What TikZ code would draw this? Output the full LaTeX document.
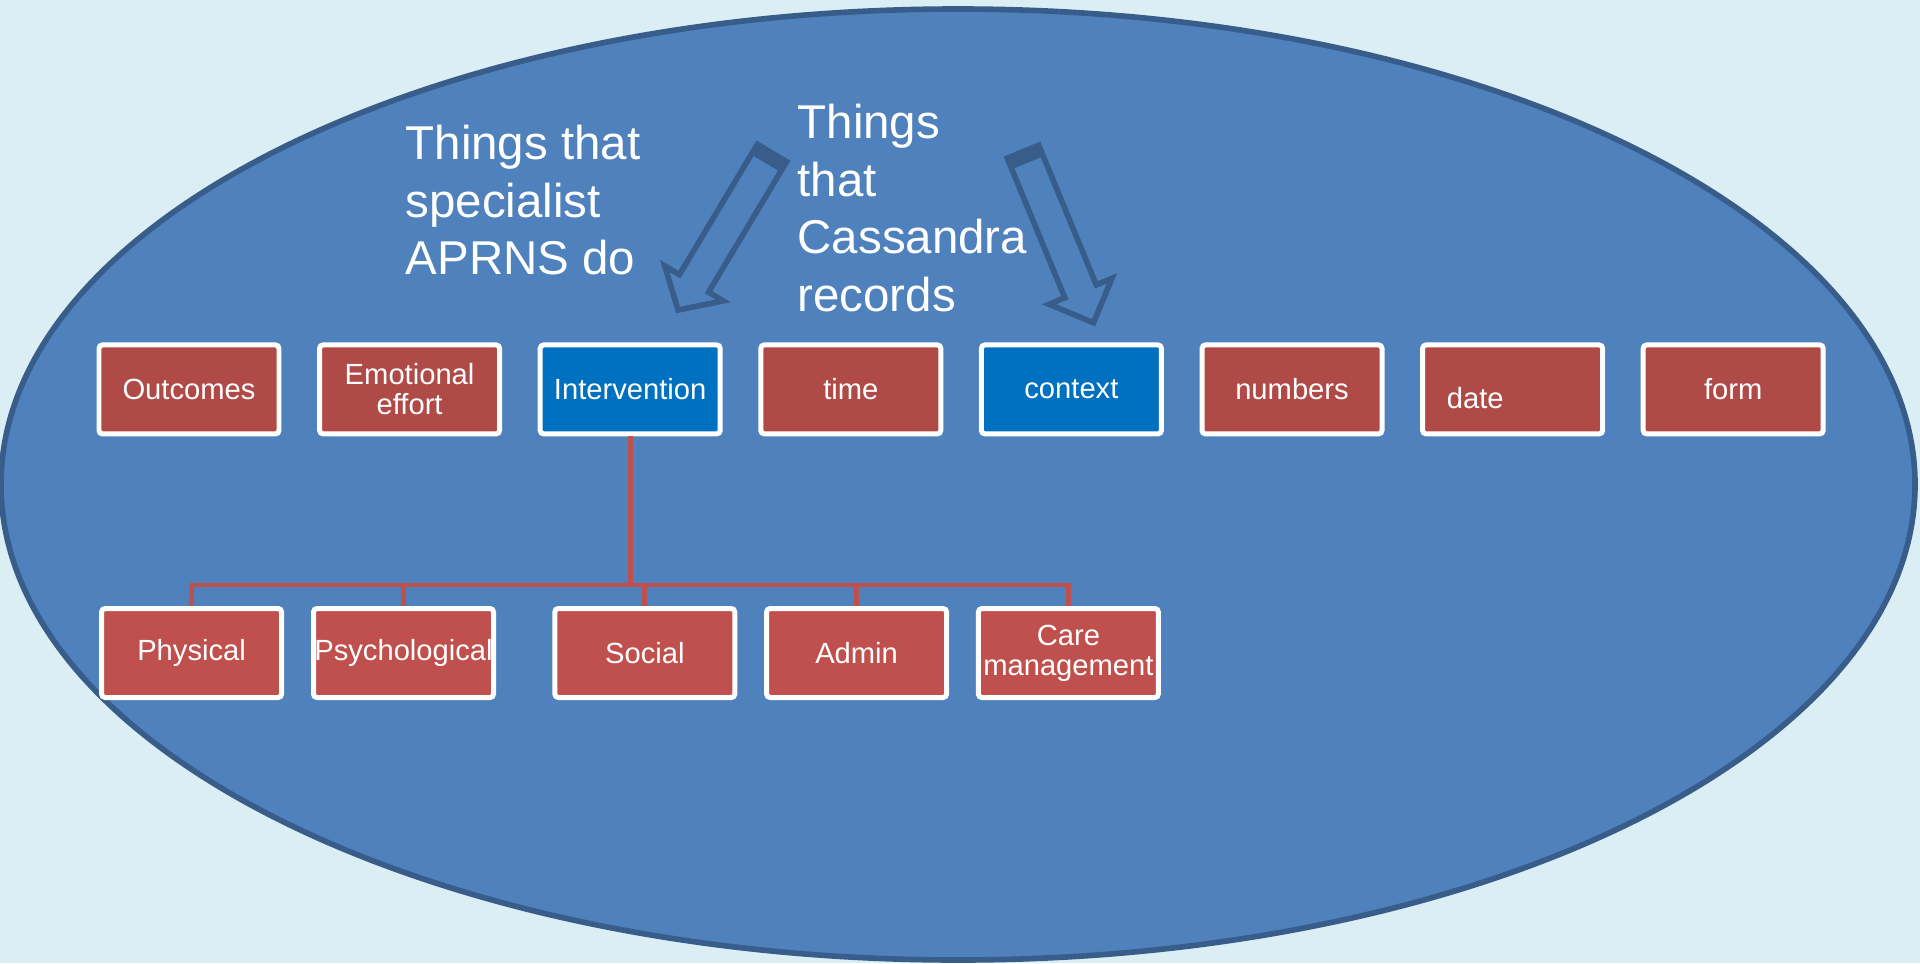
\documentclass[tikz,border=0pt]{standalone}
\usepackage{fontspec}
\setmainfont{Liberation Sans}
\usetikzlibrary{arrows}
\definecolor{pagebg}{HTML}{DAEEF3}
\definecolor{ringfill}{HTML}{4F81BD}
\definecolor{ringedge}{HTML}{385D8A}
\definecolor{topred}{HTML}{B04A47}
\definecolor{lowred}{HTML}{C0504D}
\definecolor{keyblue}{HTML}{0070C0}

\begin{document}
\begin{tikzpicture}[
  boxtext/.style={text=white, inner sep=0pt, font=\fontsize{8.3}{8.6}\selectfont, align=center},
  topbox/.style={boxtext, draw=white, line width=1.42pt, rounded corners=1pt, fill=topred,
    minimum width=1.80cm, minimum height=0.89cm},
  keybox/.style={topbox, fill=keyblue},
  lowbox/.style={topbox, fill=lowred},
  bigtext/.style={text=white, inner sep=0pt, align=left, font=\fontsize{13.5}{16.4}\selectfont},
  link/.style={draw=lowred, line width=1.4pt},
  hollow/.style={draw=ringedge, line width=1.6pt, line join=miter}
]
  \useasboundingbox (0,0) rectangle (19.2,9.63);
  % Background and ellipse
  \fill[pagebg] (0,0) rectangle (19.2,9.63);
  \draw[draw=ringedge, line width=1.6pt, fill=ringfill] (9.58,4.785) ellipse (9.57 and 4.755);
  % Headings
  \node[bigtext, anchor=north west] (aprns) at (4.05,8.387) {Things that\\specialist\\APRNS do};
  \node[bigtext, anchor=north west] (cass) at (7.97,8.597) {Things\\that\\Cassandra\\records};
  % Hollow arrows
  \begin{scope}[shift={(7.72,8.10)}, rotate=239.1]
    \fill[ringedge] (0,-0.17) rectangle (0.12,0.17);
    \draw[hollow] (0,-0.17) -- (1.52,-0.17) -- (1.52,-0.34) -- (1.83,0) -- (1.52,0.34) -- (1.52,0.17) -- (0,0.17) -- cycle;
  \end{scope}
  \begin{scope}[shift={(10.23,8.113)}, rotate=-67.6]
    \fill[ringedge] (0,-0.17) rectangle (0.12,0.17);
    \draw[hollow] (0,-0.17) -- (1.51,-0.17) -- (1.51,-0.34) -- (1.85,0) -- (1.51,0.34) -- (1.51,0.17) -- (0,0.17) -- cycle;
  \end{scope}
  % Top row of boxes
  \node[topbox] (outc) at (1.89,5.736) {Outcomes};
  \node[topbox] (emot) at (4.096,5.736) {Emotional\\effort};
  \node[keybox] (interv) at (6.302,5.736) {Intervention};
  \node[topbox] (time) at (8.508,5.736) {time};
  \node[keybox] (context) at (10.714,5.736) {context};
  \node[topbox] (numbers) at (12.92,5.736) {numbers};
  \node[topbox] (date) at (15.126,5.736) {};
  \node[boxtext, anchor=west] (datetext) at ([xshift=0.26cm, yshift=-0.09cm]date.west) {date};
  \node[topbox] (form) at (17.332,5.736) {form};
  % Bottom row of boxes
  \node[lowbox] (phys) at (1.916,3.10) {Physical};
  \node[lowbox] (psych) at (4.035,3.10) {Psychological};
  \node[lowbox] (social) at (6.448,3.10) {Social};
  \node[lowbox] (admin) at (8.566,3.10) {Admin};
  \node[lowbox] (care) at (10.684,3.10) {Care\\management};
  % Tree lines
  \coordinate (fork) at (6.302,3.78);
  \draw[link] (interv.south) -- (fork);
  \draw[link] (fork) -| (phys.north);
  \draw[link] (fork) -| (psych.north);
  \draw[link] (fork) -| (social.north);
  \draw[link] (fork) -| (admin.north);
  \draw[link] (fork) -| (care.north);
\end{tikzpicture}
\end{document}
